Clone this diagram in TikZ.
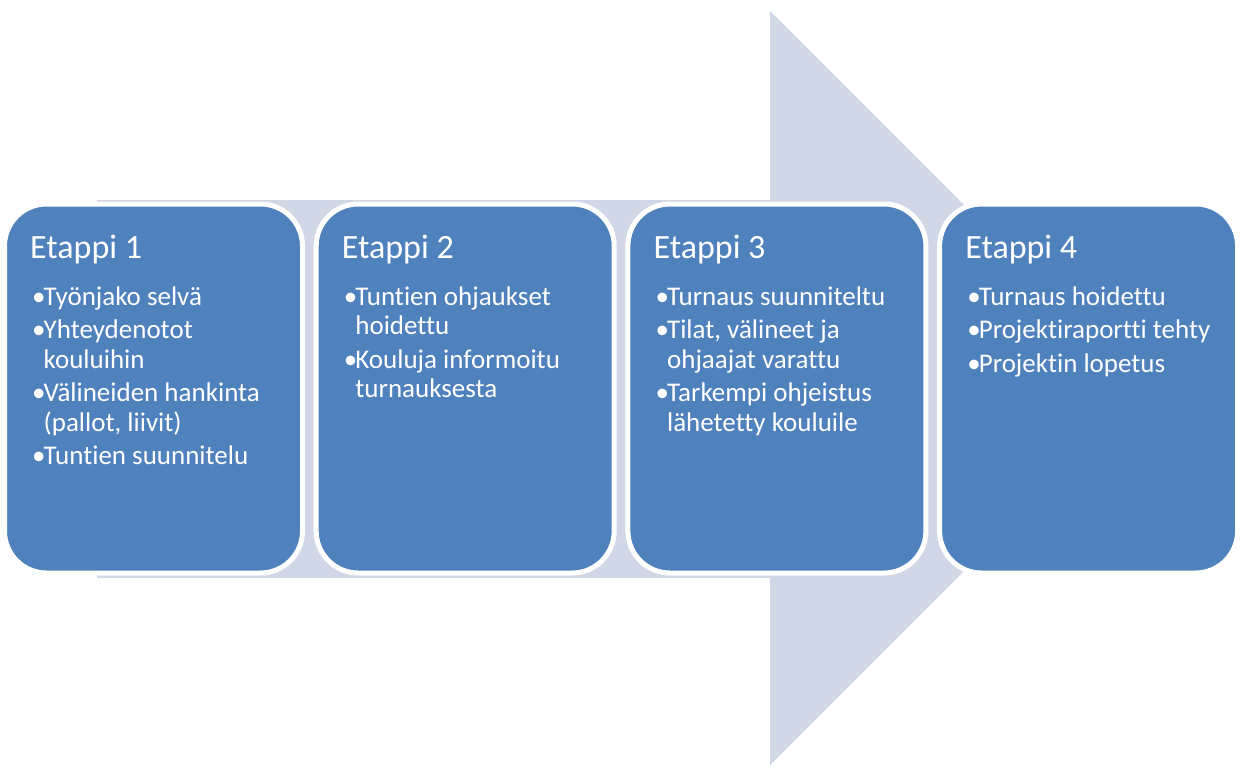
\documentclass[tikz,border=0pt]{standalone}
\usepackage{fontspec}
\setmainfont{Carlito}[Ligatures=NoCommon]
\definecolor{boxblue}{HTML}{4F81BD}
\definecolor{arrowgrey}{HTML}{D0D8E8}
\newcommand{\bul}[1]{\hbox{\makebox[11.5pt][l]{•}#1}}
\newcommand{\cnt}[1]{\hbox{\hspace*{11.5pt}#1}}
\newcommand{\gap}{\vskip4pt}
\newcommand{\bodytext}[1]{\vtop{\baselineskip=29.5pt\lineskiplimit=-50pt\lineskip=0pt #1}}
\tikzset{
  stagebox/.style={fill=boxblue, draw=white, line width=5pt, rounded corners=42pt},
  stagetitle/.style={anchor=base west, inner sep=0pt, text=white, font=\fontsize{34}{40}\selectfont},
  stagebody/.style={anchor=base west, inner sep=0pt, text=white, font=\fontsize{27}{29.5}\selectfont},
}
\begin{document}
\begin{tikzpicture}[x=1pt,y=-1pt]
\useasboundingbox (0,0) rectangle (1243,764);
\fill[arrowgrey] (97,200) -- (770,200) -- (770,11) -- (1147,388) -- (770,765) -- (770,578) -- (97,578) -- cycle;
\foreach \i in {0,1,2,3}{
  \path[stagebox] ({4.5+311.7*\i},204) rectangle ({302.5+311.7*\i},573);
}
\node[stagetitle] (t1) at (30,258) {Etappi 1};
\node[stagetitle] (t2) at (341.7,258) {Etappi 2};
\node[stagetitle] (t3) at (653.4,258) {Etappi 3};
\node[stagetitle] (t4) at (965.1,258) {Etappi 4};
\node[stagebody] (b1) at (32,305) {\bodytext{\bul{Työnjako selvä}\gap\bul{Yhteydenotot}\cnt{kouluihin}\gap\bul{Välineiden hankinta}\cnt{(pallot, liivit)}\gap\bul{Tuntien suunnitelu}}};
\node[stagebody] (b2) at (343.7,305) {\bodytext{\bul{Tuntien ohjaukset}\cnt{hoidettu}\gap\bul{Kouluja informoitu}\cnt{turnauksesta}}};
\node[stagebody] (b3) at (655.4,305) {\bodytext{\bul{Turnaus suunniteltu}\gap\bul{Tilat, välineet ja}\cnt{ohjaajat varattu}\gap\bul{Tarkempi ohjeistus}\cnt{lähetetty kouluile}}};
\node[stagebody] (b4) at (967.1,305) {\bodytext{\bul{Turnaus hoidettu}\gap\bul{Projektiraportti tehty}\gap\bul{Projektin lopetus}}};
\end{tikzpicture}
\end{document}
